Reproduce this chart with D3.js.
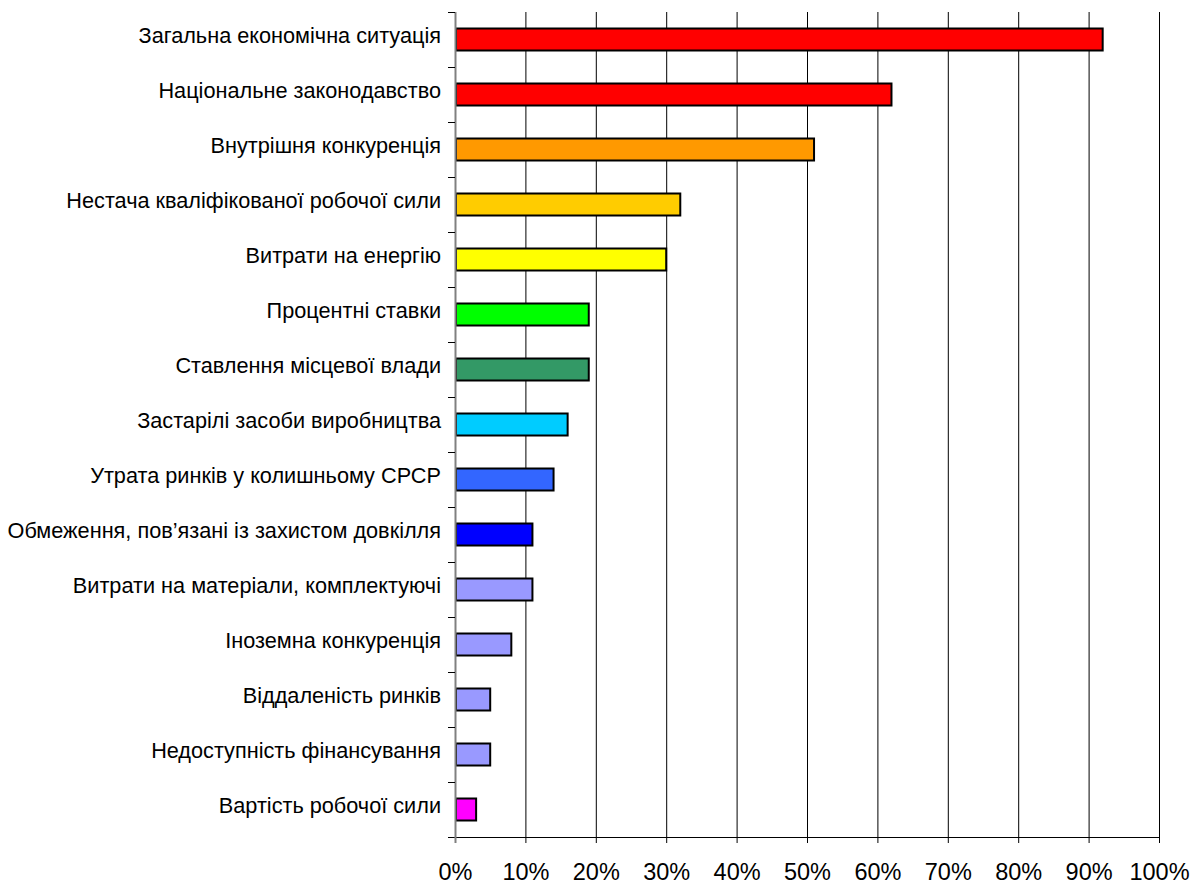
<!DOCTYPE html>
<html><head><meta charset="utf-8">
<script src="https://cdn.jsdelivr.net/npm/d3@7"></script>
<style>body{margin:0;background:#fff;} svg{display:block;}</style>
</head><body>
<svg id="c" width="1191" height="881"></svg>
<script>
const categories = [
  "Загальна економічна ситуація",
  "Національне законодавство",
  "Внутрішня конкуренція",
  "Нестача кваліфікованої робочої сили",
  "Витрати на енергію",
  "Процентні ставки",
  "Ставлення місцевої влади",
  "Застарілі засоби виробництва",
  "Утрата ринків у колишньому СРСР",
  "Обмеження, пов’язані із захистом довкілля",
  "Витрати на матеріали, комплектуючі",
  "Іноземна конкуренція",
  "Віддаленість ринків",
  "Недоступність фінансування",
  "Вартість робочої сили"
];
const values = [92, 62, 51, 32, 30, 19, 19, 16, 14, 11, 11, 8, 5, 5, 3];
const colors = ["#FF0000","#FF0000","#FF9900","#FFCC00","#FFFF00","#00FF00","#339966","#00CCFF","#3366FF","#0000FF","#9999FF","#9999FF","#9999FF","#9999FF","#FF00FF"];
const xTicks = [0,10,20,30,40,50,60,70,80,90,100];

(function(){
const svg = d3.select("#c");
const mL = 455, mR = 1159, mT = 12, mB = 837;
const x = d3.scaleLinear().domain([0,100]).range([mL,mR]);
const y = d3.scaleBand().domain(categories).range([mT,mB]).paddingInner(0.6).paddingOuter(0.3);
const yb = d3.scaleLinear().domain([0,categories.length]).range([mT,mB]);

// gridlines
svg.append("g").selectAll("line").data(xTicks.slice(1)).join("line")
  .attr("x1", d=>x(d)+0.5).attr("x2", d=>x(d)+0.5)
  .attr("y1", mT).attr("y2", mB)
  .attr("stroke","#000").attr("stroke-width",1);

// bars
svg.append("g").selectAll("rect").data(values).join("rect")
  .attr("x", x(0)+1)
  .attr("y", (d,i)=>y(categories[i]))
  .attr("width", d=>x(d)-x(0)-1)
  .attr("height", y.bandwidth())
  .attr("fill", (d,i)=>colors[i])
  .attr("stroke","#000").attr("stroke-width",2);

// x axis
const xAxis = d3.axisBottom(x).tickValues(xTicks).tickFormat(d=>d+"%").tickSize(6).tickPadding(20);
const gx = svg.append("g").attr("transform",`translate(0,${mB})`).call(xAxis);
gx.select(".domain").attr("d", `M${mL-7},0.5H${mR+0.5}`).attr("stroke","#000");
gx.selectAll(".tick line").attr("stroke","#000");
gx.selectAll("text").attr("font-family","Liberation Sans, Arial, sans-serif").attr("font-size",23.5).attr("fill","#000");

// y axis line (gray) with boundary ticks
svg.append("line").attr("x1",mL+0.5).attr("x2",mL+0.5).attr("y1",mT).attr("y2",mB+6)
  .attr("stroke","#808080").attr("stroke-width",2);
svg.append("g").selectAll("line").data(d3.range(categories.length)).join("line")
  .attr("x1", mL-7).attr("x2", mL)
  .attr("y1", d=>yb(d)+0.5).attr("y2", d=>yb(d)+0.5)
  .attr("stroke","#000");

// category labels
svg.append("g").selectAll("text").data(categories).join("text")
  .attr("x", 441).attr("y", d=>y(d)+y.bandwidth()/2)
  .attr("dy","0.15em").attr("text-anchor","end")
  .attr("font-family","Liberation Sans, Arial, sans-serif").attr("font-size",21.7).attr("fill","#000")
  .text(d=>d);
})();
</script>
</body></html>
